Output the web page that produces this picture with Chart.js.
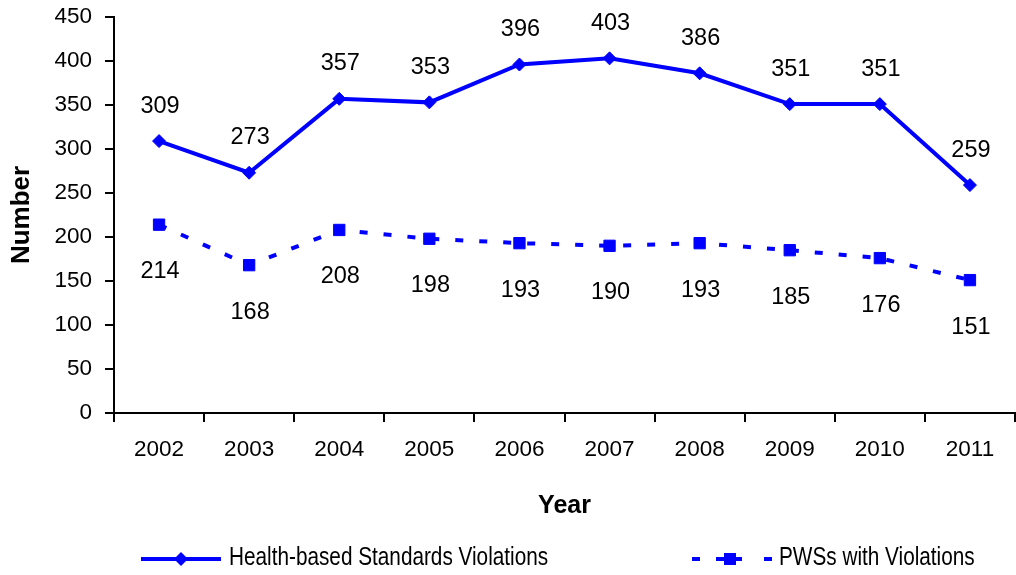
<!DOCTYPE html>
<html>
<head>
<meta charset="utf-8">
<script src="https://cdn.jsdelivr.net/npm/chart.js@4/dist/chart.umd.min.js"></script>
<style>
  html, body { margin: 0; padding: 0; background: #fff; }
  #wrap { width: 1016px; height: 575px; }
</style>
</head>
<body>
<div id="wrap"><canvas id="c" width="1016" height="575"></canvas></div>
<script>
const years = ['2002','2003','2004','2005','2006','2007','2008','2009','2010','2011'];
const healthViolations = [309, 273, 357, 353, 396, 403, 386, 351, 351, 259];
const pwsViolations = [214, 168, 208, 198, 193, 190, 193, 185, 176, 151];
const yTicks = [0, 50, 100, 150, 200, 250, 300, 350, 400, 450];
const seriesNames = ['Health-based Standards Violations', 'PWSs with Violations'];

const BLUE = '#0000FF';
const REG = "'Liberation Sans', Arial, sans-serif";

const labelPlugin = {
  id: 'pointLabels',
  afterDatasetsDraw(chart) {
    const ctx = chart.ctx;
    ctx.save();
    ctx.font = '23.5px ' + REG;
    ctx.fillStyle = '#000';
    ctx.textAlign = 'center';
    ctx.textBaseline = 'middle';
    chart.data.datasets.forEach((ds, i) => {
      const meta = chart.getDatasetMeta(i);
      meta.data.forEach((pt, j) => {
        const dy = i === 0 ? -35 : 47;
        ctx.fillText(String(ds.data[j]), pt.x + 1, pt.y + dy);
      });
    });
    ctx.restore();
  }
};

const legendPlugin = {
  id: 'customLegend',
  afterDraw(chart) {
    const ctx = chart.ctx;
    const ds = chart.data.datasets;
    const y = 559;
    ctx.save();
    ctx.strokeStyle = ds[0].borderColor;
    ctx.fillStyle = ds[0].borderColor;
    ctx.lineWidth = 4;
    ctx.beginPath(); ctx.moveTo(141, y); ctx.lineTo(221, y); ctx.stroke();
    ctx.beginPath();
    ctx.moveTo(181 - 7, y); ctx.lineTo(181, y - 7); ctx.lineTo(181 + 7, y); ctx.lineTo(181, y + 7); ctx.closePath();
    ctx.fill();
    ctx.strokeStyle = ds[1].borderColor;
    ctx.fillStyle = ds[1].borderColor;
    [[692, 700], [716, 742], [764, 772]].forEach(s => {
      ctx.beginPath(); ctx.moveTo(s[0], y); ctx.lineTo(s[1], y); ctx.stroke();
    });
    ctx.fillRect(730 - 6, y - 6, 12, 12);
    ctx.fillStyle = '#000';
    ctx.font = '25px ' + REG;
    ctx.textAlign = 'left';
    ctx.textBaseline = 'middle';
    const sx = 0.83;
    ctx.save(); ctx.translate(229, y - 1); ctx.scale(sx, 1); ctx.fillText(ds[0].label, 0, 0); ctx.restore();
    ctx.save(); ctx.translate(779, y - 1); ctx.scale(sx, 1); ctx.fillText(ds[1].label, 0, 0); ctx.restore();
    ctx.restore();
  }
};

new Chart(document.getElementById('c'), {
  type: 'line',
  data: {
    labels: years,
    datasets: [
      {
        label: seriesNames[0],
        data: healthViolations,
        borderColor: BLUE,
        backgroundColor: BLUE,
        borderWidth: 4,
        pointStyle: 'rectRot',
        pointRadius: 6.5,
        pointBorderWidth: 1,
        tension: 0,
        fill: false,
        clip: false
      },
      {
        label: seriesNames[1],
        data: pwsViolations,
        borderColor: BLUE,
        backgroundColor: BLUE,
        borderWidth: 4,
        borderDash: [8, 16],
        pointStyle: 'rect',
        pointRadius: 8,
        pointBorderWidth: 1,
        tension: 0,
        fill: false,
        clip: false
      }
    ]
  },
  options: {
    responsive: false,
    animation: false,
    devicePixelRatio: 1,
    layout: { autoPadding: false, padding: { left: 0, right: 1, top: 17, bottom: 54 } },
    plugins: { legend: { display: false }, tooltip: { enabled: false } },
    scales: {
      x: {
        type: 'category',
        offset: true,
        grid: { display: true, offset: true, drawOnChartArea: false, drawTicks: true, tickLength: 9, color: '#000', lineWidth: 2 },
        border: { display: true, color: '#000', width: 2 },
        ticks: { color: '#000', font: { family: REG, size: 22.5 }, padding: 14, maxRotation: 0, autoSkip: false },
        title: { display: true, text: 'Year', color: '#000', font: { family: REG, size: 25, weight: 'bold' }, padding: { top: 0, bottom: 0 } },
        afterFit(scale) { scale.height = 108; scale.paddingLeft = 0; scale.paddingRight = 0; }
      },
      y: {
        min: 0, max: 450,
        afterBuildTicks(scale) { scale.ticks = yTicks.map(v => ({ value: v })); },
        grid: { display: true, drawOnChartArea: false, drawTicks: true, tickLength: 9, color: '#000', lineWidth: 2 },
        border: { display: true, color: '#000', width: 2 },
        ticks: { color: '#000', font: { family: REG, size: 22.5 }, padding: 13 },
        title: { display: true, text: 'Number', color: '#000', font: { family: REG, size: 26, weight: 'bold' }, padding: { top: 6, bottom: 0 } },
        afterFit(scale) { scale.width = 114; scale.paddingTop = 0; scale.paddingBottom = 0; }
      }
    }
  },
  plugins: [labelPlugin, legendPlugin]
});
</script>
</body>
</html>
